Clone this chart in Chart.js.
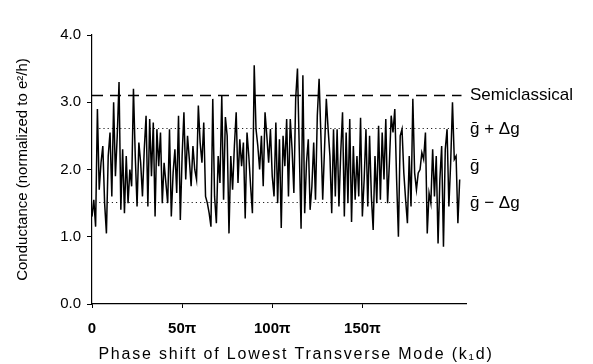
<!DOCTYPE html>
<html>
<head>
<meta charset="utf-8">
<script src="https://cdn.jsdelivr.net/npm/chart.js@4/dist/chart.umd.min.js"></script>
<style>
body { margin:0; background:#fff; }
</style>
</head>
<body>
<canvas id="condChart" width="593" height="364"></canvas>
<script>
// conductance in units of e^2/h, one sample per pi of phase shift
var conductance = [
  1.3, 1.55, 1.15, 2.9, 1.7, 2.1, 2.35, 1.5, 1.05, 2.2,
  2.55, 1.6, 3.0, 1.9, 2.5, 3.3, 1.4, 2.3, 1.35, 2.2,
  1.5, 2.0, 1.75, 3.2, 2.2, 1.45, 2.4, 2.1, 1.6, 2.3,
  2.8, 1.45, 2.75, 1.9,
  2.7, 1.3, 2.6, 2.05, 2.55, 1.5,
  2.1, 1.8, 1.5, 2.6, 1.3, 1.95, 2.3, 1.65, 2.8, 1.25,
  2.2, 2.85, 1.85, 2.5, 2.15, 1.75, 2.35, 2.0, 1.85, 2.95,
  2.4, 2.1, 2.7, 1.6, 1.5, 1.35, 1.15, 3.05,
  1.6, 1.2,
  2.2, 1.8, 3.1, 1.55, 2.78, 2.5, 1.05, 2.2, 1.7, 2.35,
  2.85, 1.8, 2.45, 2.05, 2.4, 1.27, 2.55, 2.2, 1.75, 1.35,
  3.55, 2.6, 2.35, 2.0, 2.5, 1.75, 2.85, 2.5, 2.1, 2.6,
  1.9, 1.6, 2.7,
  1.5, 2.45, 1.13, 2.5, 2.05, 2.75, 1.6,
  2.75, 2.3, 1.65, 3.05, 3.5, 2.3, 1.12, 3.4, 1.35, 2.1,
  2.45, 1.4, 1.75, 2.4, 1.55, 2.8, 3.35, 2.5, 1.55, 2.3,
  3.05, 2.6, 2.2, 1.35, 2.6, 1.6, 2.6,
  1.45, 2.25, 2.85,
  1.3, 2.55, 1.5, 2.75, 1.22, 2.35, 1.55, 2.2, 1.6, 2.77,
  1.3, 1.85, 2.6, 1.45, 2.5, 1.6, 1.1, 2.2, 1.5, 2.65,
  1.55, 2.55, 1.85, 2.75, 1.5, 2.1, 2.8, 2.55, 2.9, 1.85,
  1.0, 2.5,
  2.6, 1.95, 1.55, 1.2, 2.2, 1.45, 3.05, 1.95,
  1.7, 1.95, 2.0, 2.25, 2.15, 2.55, 1.05, 1.65, 1.5, 2.3,
  1.6, 2.2, 0.9, 1.85, 2.35, 0.85, 2.3, 2.6, 1.45, 2.1,
  3.0, 2.15, 2.2, 1.2, 1.85
];
var phaseStep = 1; // pi per sample

var semiclassical = 3.10;
var gPlus = 2.61;
var gMinus = 1.51;

var xTicks = [0, 50, 100, 150];
var sideNames = ['Semiclassical', 'ḡ + Δg', 'ḡ', 'ḡ − Δg'];
var sideValues = [3.10, 2.60, 2.05, 1.50];
var xTitle = 'Phase shift of Lowest Transverse Mode (k\u2081d)';

var font = '"Liberation Sans", Arial, sans-serif';

var trace = conductance.map(function(v, i) {
  return {x: i * phaseStep, y: v};
});

// labels to the right of the plot and the spaced-out x title
var extraText = {
  id: 'extraText',
  afterDraw: function(chart) {
    var ctx = chart.ctx;
    var ys = chart.scales.y;
    var left = chart.chartArea.right + 4;
    ctx.save();
    ctx.font = '17px ' + font;
    ctx.fillStyle = '#000';
    ctx.textBaseline = 'middle';
    for (var i = 0; i < sideNames.length; i++) {
      ctx.fillText(sideNames[i], left, ys.getPixelForValue(sideValues[i]));
    }
    ctx.font = '16px ' + font;
    ctx.letterSpacing = '1.8px';
    ctx.textAlign = 'center';
    ctx.fillText(xTitle, 296, 355);
    ctx.restore();
  }
};

var ctx = document.getElementById('condChart').getContext('2d');
var condChart = new Chart(ctx, {
  type: 'line',
  data: {
    datasets: [
      {
        data: trace,
        borderColor: '#000',
        borderWidth: 1.5,
        pointRadius: 0,
        tension: 0
      },
      {
        data: [{x: 0, y: semiclassical}, {x: 205, y: semiclassical}],
        borderColor: '#000',
        borderWidth: 1.4,
        borderDash: [11, 7],
        pointRadius: 0
      },
      {
        data: [{x: 4, y: gPlus}, {x: 203, y: gPlus}],
        borderColor: '#222',
        borderWidth: 1.1,
        borderDash: [1.2, 3],
        pointRadius: 0
      },
      {
        data: [{x: 4, y: gMinus}, {x: 203, y: gMinus}],
        borderColor: '#222',
        borderWidth: 1.1,
        borderDash: [1.2, 3],
        pointRadius: 0
      }
    ]
  },
  options: {
    responsive: false,
    animation: false,
    layout: {padding: {top: 35, right: 127, left: 0, bottom: 0}},
    plugins: {legend: {display: false}, tooltip: {enabled: false}},
    scales: {
      x: {
        type: 'linear',
        min: 0,
        max: 207.5,
        afterBuildTicks: function(scale) {
          scale.ticks = xTicks.map(function(v) { return {value: v}; });
        },
        afterFit: function(scale) { scale.height = 60; },
        grid: {display: true, drawOnChartArea: false, tickLength: 4, color: '#000'},
        border: {display: true, color: '#000', width: 1.2},
        ticks: {
          color: '#000',
          padding: 12,
          maxRotation: 0,
          font: {family: font, size: 15, weight: 'bold'},
          callback: function(v) { return v === 0 ? '0' : v + 'π'; }
        }
      },
      y: {
        min: 0,
        max: 4,
        afterFit: function(scale) { scale.width = 92; },
        grid: {display: true, drawOnChartArea: false, tickLength: 5, color: '#000'},
        border: {display: true, color: '#000', width: 1.2},
        ticks: {
          stepSize: 1,
          color: '#000',
          padding: 6,
          font: {family: font, size: 15},
          callback: function(v) { return v.toFixed(1); }
        },
        title: {
          display: true,
          text: 'Conductance (normalized to e\u00b2/h)',
          color: '#000',
          font: {family: font, size: 15},
          padding: {top: 14, bottom: 0}
        }
      }
    }
  },
  plugins: [extraText]
});
</script>
</body>
</html>
